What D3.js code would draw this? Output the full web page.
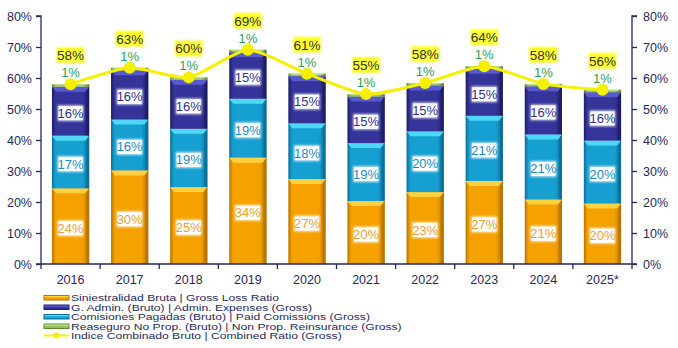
<!DOCTYPE html>
<html>
<head>
<meta charset="utf-8">
<script src="https://cdn.jsdelivr.net/npm/d3@7"></script>
<style>
  body { margin: 0; background: #fff; }
  svg { display: block; font-family: "Liberation Sans", Arial, sans-serif; }
</style>
</head>
<body>
<svg id="chart" width="678" height="348"></svg>
<script>
var years = ["2016", "2017", "2018", "2019", "2020", "2021", "2022", "2023", "2024", "2025*"];
var lossRatio = [24.4, 30.2, 24.8, 34.3, 27.4, 20.3, 23.2, 26.8, 20.8, 19.5];
var commissions = [17.0, 16.4, 18.8, 19.0, 18.0, 18.7, 19.6, 21.0, 21.0, 20.3];
var adminExp = [15.8, 15.9, 15.8, 15.0, 15.2, 15.0, 14.8, 15.2, 15.5, 15.6];
var reinsurance = [0.8, 0.8, 0.8, 0.8, 0.8, 0.8, 0.8, 0.8, 0.8, 0.8];
var combined = [58.0, 63.3, 60.2, 69.1, 61.4, 54.8, 58.4, 63.8, 58.1, 56.2];
var yTicks = [0, 10, 20, 30, 40, 50, 60, 70, 80];

var legendNames = [
    "Siniestralidad Bruta | Gross Loss Ratio",
    "G. Admin. (Bruto) | Admin. Expenses (Gross)",
    "Comisiones Pagadas (Bruto) | Paid Comissions (Gross)",
    "Reaseguro No Prop. (Bruto) | Non Prop. Reinsurance (Gross)",
    "Indice Combinado Bruto | Combined Ratio (Gross)"
];

var AXIS = "#1f2a5c";
var svg = d3.select("#chart");
var plotLeft = 41, plotRight = 632, plotTop = 16, plotBottom = 264;

var x = d3.scaleBand().domain(years).range([plotLeft, plotRight]).paddingInner(0.37).paddingOuter(0.185);
var y = d3.scaleLinear().domain([0, 80]).range([plotBottom, plotTop]);

// series in stacking order, bottom to top
var series = [
    {key: "loss", values: lossRatio, main: "#f5a200", light: "#ffd040", dark: "#b87300", text: "#f0a030"},
    {key: "comm", values: commissions, main: "#16a0d2", light: "#4fd8f5", dark: "#0b6f98", text: "#1a8cc4"},
    {key: "admin", values: adminExp, main: "#34349a", light: "#5a5ad0", dark: "#1e1e66", text: "#303090"},
    {key: "reins", values: reinsurance, main: "#92c35a", light: "#b8e080", dark: "#5e8a30", text: "#2aa05a"}
];

var defs = svg.append("defs");
series.forEach(function (s) {
    var g = defs.append("linearGradient").attr("id", "grad-" + s.key)
        .attr("x1", 0).attr("x2", 1).attr("y1", 0).attr("y2", 0);
    g.append("stop").attr("offset", "0").attr("stop-color", s.dark);
    g.append("stop").attr("offset", "0.1").attr("stop-color", s.main);
    g.append("stop").attr("offset", "0.82").attr("stop-color", s.main);
    g.append("stop").attr("offset", "1").attr("stop-color", s.dark);
});
var glow = defs.append("filter").attr("id", "glow").attr("x", "-30%").attr("y", "-30%").attr("width", "160%").attr("height", "160%");
glow.append("feGaussianBlur").attr("stdDeviation", 1.2);

// stack
var stacked = years.map(function (yr, i) {
    var base = 0;
    return series.map(function (s) {
        var seg = {year: yr, s: s, v: s.values[i], y0: base, y1: base + s.values[i]};
        base += s.values[i];
        return seg;
    });
});

var bw = x.bandwidth();
var barG = svg.append("g");
stacked.forEach(function (segs) {
    segs.forEach(function (d) {
        var x0 = x(d.year), yTop = y(d.y1), yBot = y(d.y0);
        barG.append("rect")
            .attr("x", x0).attr("y", yTop)
            .attr("width", bw).attr("height", yBot - yTop)
            .attr("fill", "url(#grad-" + d.s.key + ")");
        var bev = Math.min(5, (yBot - yTop) / 2);
        barG.append("path")
            .attr("d", "M" + x0 + "," + yTop + "L" + (x0 + bw) + "," + yTop +
                "L" + (x0 + bw - 4) + "," + (yTop + bev) + "L" + (x0 + 4) + "," + (yTop + bev) + "Z")
            .attr("fill", d.s.light);
        barG.append("path")
            .attr("d", "M" + (x0 + bw) + "," + yTop + "L" + (x0 + bw) + "," + yBot +
                "L" + (x0 + bw - 3) + "," + (yBot - 1) + "L" + (x0 + bw - 3) + "," + (yTop + bev) + "Z")
            .attr("fill", d.s.dark).attr("opacity", 0.8);
    });
});

// axes
var leftAxis = d3.axisLeft(y).tickValues(yTicks).tickSize(5).tickPadding(4)
    .tickFormat(function (d) { return d + "%"; });
var rightAxis = d3.axisRight(y).tickValues(yTicks).tickSize(5).tickPadding(6)
    .tickFormat(function (d) { return d + "%"; });

function styleAxis(g) {
    g.select(".domain").attr("stroke", AXIS).attr("stroke-width", 1.3);
    g.selectAll(".tick line").attr("stroke", AXIS).attr("stroke-width", 1.3);
    g.selectAll(".tick text").attr("fill", AXIS).attr("font-size", 12.5)
        .attr("font-family", "Liberation Sans, Arial, sans-serif");
}
svg.append("g").attr("transform", "translate(" + plotLeft + ",0)").call(leftAxis).call(styleAxis)
    .select(".domain").attr("d", "M-5," + plotTop + "H0V" + plotBottom + "H-5");
svg.append("g").attr("transform", "translate(" + plotRight + ",0)").call(rightAxis).call(styleAxis)
    .select(".domain").attr("d", "M5," + plotTop + "H0V" + plotBottom + "H5");

// bottom axis with ticks between categories
var xAxisG = svg.append("g");
xAxisG.append("line").attr("x1", plotLeft).attr("x2", plotRight).attr("y1", plotBottom).attr("y2", plotBottom)
    .attr("stroke", AXIS).attr("stroke-width", 1.3);
d3.range(years.length + 1).forEach(function (i) {
    var xx = plotLeft + i * (plotRight - plotLeft) / years.length;
    xAxisG.append("line").attr("x1", xx).attr("x2", xx).attr("y1", plotBottom).attr("y2", plotBottom + 5)
        .attr("stroke", AXIS).attr("stroke-width", 1.3);
});
xAxisG.selectAll("text.yr").data(years).enter().append("text")
    .attr("x", function (d) { return x(d) + bw / 2; })
    .attr("y", plotBottom + 20)
    .attr("text-anchor", "middle")
    .attr("fill", AXIS).attr("font-size", 12.5)
    .text(function (d) { return d; });

// segment labels (boxed)
var labelG = svg.append("g");
stacked.forEach(function (segs) {
    segs.slice(0, 3).forEach(function (d) {
        var cx = x(d.year) + bw / 2, cy = (y(d.y0) + y(d.y1)) / 2 + 2;
        var txt = Math.round(d.v) + "%";
        labelG.append("rect").attr("x", cx - 13).attr("y", cy - 8).attr("width", 26).attr("height", 16)
            .attr("fill", "#ffffff").attr("opacity", 0.75).attr("filter", "url(#glow)");
        labelG.append("rect").attr("x", cx - 12).attr("y", cy - 7).attr("width", 24).attr("height", 14)
            .attr("fill", "#ffffff");
        labelG.append("text").attr("x", cx).attr("y", cy + 4.5).attr("text-anchor", "middle")
            .attr("font-size", 13).attr("fill", d.s.text).text(txt);
    });
});

// combined ratio line
var pts = years.map(function (yr, i) { return [x(yr) + bw / 2, y(combined[i])]; });
var line = d3.line().curve(d3.curveCardinal.tension(0.4));
svg.append("path").attr("d", line(pts)).attr("fill", "none")
    .attr("stroke", "#f5f000").attr("stroke-width", 3);
svg.selectAll("circle.pt").data(pts).enter().append("circle")
    .attr("cx", function (d) { return d[0]; }).attr("cy", function (d) { return d[1]; })
    .attr("r", 6).attr("fill", "#f5f000");

// reinsurance labels
svg.selectAll("text.rein").data(years).enter().append("text")
    .attr("x", function (d) { return x(d) + bw / 2; })
    .attr("y", function (d, i) { return y(combined[i]) - 7; })
    .attr("text-anchor", "middle").attr("font-size", 13).attr("fill", "#2aa05a")
    .text(function (d, i) { return Math.round(reinsurance[i]) + "%"; });

// combined labels
years.forEach(function (yr, i) {
    var cx = x(yr) + bw / 2, cy = y(combined[i]) - 29;
    svg.append("rect").attr("x", cx - 14).attr("y", cy - 8).attr("width", 28).attr("height", 16)
        .attr("fill", "#ffff40").attr("filter", "url(#glow)");
    svg.append("rect").attr("x", cx - 13).attr("y", cy - 7).attr("width", 26).attr("height", 14)
        .attr("fill", "#ffff33");
    svg.append("text").attr("x", cx).attr("y", cy + 5).attr("text-anchor", "middle")
        .attr("font-size", 13.5).attr("fill", "#333333").text(Math.round(combined[i]) + "%");
});

// legend
var lg = svg.append("g").attr("transform", "translate(44,297.5)");
var legendSw = [series[0], series[2], series[1], series[3]];
legendNames.forEach(function (name, i) {
    var row = lg.append("g").attr("transform", "translate(0," + (i * 9.5) + ")");
    if (i < 4) {
        var s = legendSw[i];
        row.append("rect").attr("x", 0).attr("y", -2).attr("width", 25).attr("height", 4.5)
            .attr("fill", s.main).attr("stroke", s.dark).attr("stroke-width", 1);
        row.append("rect").attr("x", 0.5).attr("y", -1.5).attr("width", 24).attr("height", 1.3)
            .attr("fill", s.light);
    } else {
        row.append("line").attr("x1", 0).attr("x2", 25).attr("y1", 0).attr("y2", 0)
            .attr("stroke", "#f5f000").attr("stroke-width", 2);
        row.append("circle").attr("cx", 12.5).attr("cy", 0).attr("r", 3).attr("fill", "#f5f000");
    }
    row.append("text").attr("transform", "translate(27,3.6) scale(0.995,0.8)")
        .attr("font-size", 12.2).attr("fill", AXIS).text(name);
});
</script>
</body>
</html>
